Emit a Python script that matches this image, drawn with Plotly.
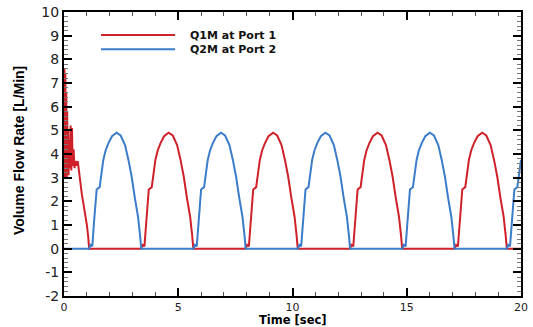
import plotly.graph_objects as go

# ---- data ----
# Q1M start-up transient (time [s], flow [L/min])
q1m_start_time = [0.00, 0.02, 0.04, 0.06, 0.08, 0.10, 0.12, 0.14, 0.16, 0.18, 0.20, 0.23,
                  0.26, 0.29, 0.32, 0.35, 0.38, 0.42, 0.46, 0.50, 0.55, 0.60, 0.64, 0.68,
                  0.72, 0.78, 0.85, 0.92, 1.00, 1.06, 1.10]
q1m_start_flow = [4.0, 7.6, 3.0, 7.4, 3.2, 6.6, 3.0, 5.8, 3.3, 5.0, 3.1, 4.6,
                  3.4, 5.2, 3.3, 5.1, 3.5, 4.2, 3.4, 3.7, 3.5, 3.7, 3.4, 3.0,
                  2.7, 2.3, 1.9, 1.5, 1.0, 0.5, 0.0]

# one pulse of the pumped flow (time since pulse start, flow)
pulse_time = [0.00, 0.06, 0.14, 0.22, 0.33, 0.46, 0.54, 0.62, 0.72, 0.84, 1.00, 1.20,
              1.38, 1.57, 1.72, 1.86, 2.00, 2.14, 2.23, 2.28]
pulse_flow = [0.00, 0.16, 0.10, 1.20, 2.50, 2.60, 3.30, 3.75, 4.15, 4.45, 4.75, 4.90,
              4.78, 4.38, 3.75, 3.05, 2.15, 1.35, 0.55, 0.00]

# pulse start times
q1m_pulse_starts = [3.38, 7.95, 12.52, 17.10]
q2m_pulse_starts = [1.10, 5.67, 10.24, 14.81, 19.38]

t_end = 20.0
x_ticks = [0, 5, 10, 15, 20]
y_ticks = [-2, -1, 0, 1, 2, 3, 4, 5, 6, 7, 8, 9, 10]

series_names = ["Q1M at Port 1", "Q2M at Port 2"]
colors = ["#cf2129", "#3b7dc9"]


def build(t0, v0, starts):
    t, v = list(t0), list(v0)
    for s in starts:
        for rt, rv in zip(pulse_time, pulse_flow):
            if s + rt <= t_end:
                t.append(round(s + rt, 3))
                v.append(rv)
    if t[-1] < t_end:
        t.append(t_end)
        v.append(v[-1] if v[-1] == 0 else 3.9)
    return t, v


q1m_t, q1m_v = build(q1m_start_time, q1m_start_flow, q1m_pulse_starts)
q2m_t, q2m_v = build([0.0], [0.0], q2m_pulse_starts)

fig = go.Figure()
fig.add_trace(go.Scatter(x=q1m_t, y=q1m_v, mode="lines", name=series_names[0],
                         line=dict(color=colors[0], width=2), showlegend=False))
fig.add_trace(go.Scatter(x=q2m_t, y=q2m_v, mode="lines", name=series_names[1],
                         line=dict(color=colors[1], width=2), showlegend=False))

common = dict(showgrid=False, zeroline=False, showline=True, linecolor="black",
              linewidth=2, mirror="allticks", ticks="inside", tickcolor="black",
              ticklen=8, tickwidth=2, automargin=False)

fig.update_xaxes(range=[0, 20], tickvals=x_ticks, ticktext=[str(v) for v in x_ticks],
                 tickfont=dict(family="DejaVu Sans", size=11, color="#222222"),
                 minor=dict(dtick=1, ticklen=4, tickwidth=1, tickcolor="#555555", ticks="inside"),
                 **common)
fig.update_yaxes(range=[-2, 10], tickvals=y_ticks, ticktext=[str(v) for v in y_ticks],
                 tickfont=dict(family="DejaVu Sans", size=14, color="#222222"),
                 minor=dict(dtick=0.2, ticklen=4, tickwidth=1, tickcolor="#777777", ticks="inside"),
                 **common)

annotations = [
    dict(text="<b>Time [sec]</b>", x=0.5, y=-0.0845, xref="paper", yref="paper",
         xanchor="center", yanchor="middle", showarrow=False,
         font=dict(family="DejaVu Sans", size=11.5, color="black")),
    dict(text="<b>Volume Flow Rate [L/Min]</b>", x=-0.0985, y=0.514, xref="paper", yref="paper",
         xanchor="center", yanchor="middle", showarrow=False, textangle=-90,
         font=dict(family="Liberation Sans", size=14, color="black")),
]
shapes = []
legend_y = [0.919, 0.869]
for name, col, ly in zip(series_names, colors, legend_y):
    shapes.append(dict(type="line", xref="paper", yref="paper", x0=0.081, x1=0.243,
                       y0=ly, y1=ly, line=dict(color=col, width=2)))
    annotations.append(dict(text="<b>" + name + "</b>", x=0.2713, y=ly, xref="paper", yref="paper",
                            xanchor="left", yanchor="middle", showarrow=False,
                            font=dict(family="DejaVu Sans", size=11, color="#111111")))

fig.update_layout(width=533, height=327,
                  margin=dict(l=64, r=12, t=12, b=31, autoexpand=False),
                  paper_bgcolor="white", plot_bgcolor="white",
                  annotations=annotations, shapes=shapes, showlegend=False)

fig.write_html("out.html")
